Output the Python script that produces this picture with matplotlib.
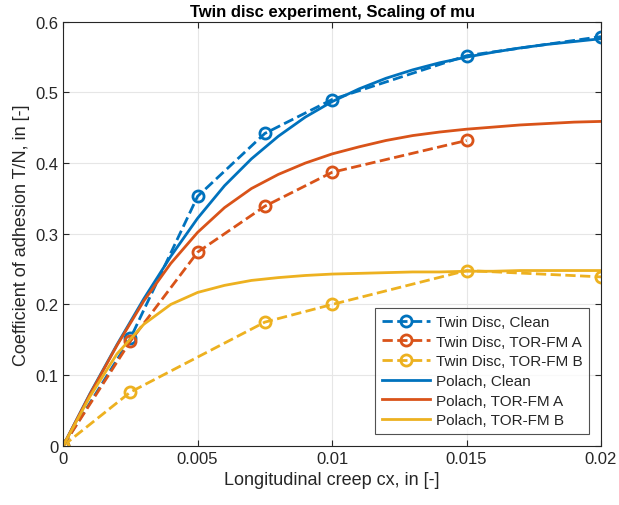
import numpy as np
import matplotlib.pyplot as plt

plt.rcParams['font.family'] = ['Liberation Sans', 'DejaVu Sans']

# measured twin disc points
td_x_clean = [0, 0.0025, 0.005, 0.0075, 0.01, 0.015, 0.02]
td_y_clean = [0, 0.152, 0.353, 0.442, 0.490, 0.552, 0.579]
td_x_a = [0, 0.0025, 0.005, 0.0075, 0.01, 0.015]
td_y_a = [0, 0.148, 0.274, 0.339, 0.387, 0.432]
td_x_b = [0, 0.0025, 0.0075, 0.01, 0.015, 0.02]
td_y_b = [0, 0.076, 0.175, 0.200, 0.248, 0.239]

# Polach model curves
pol_x = [0, 0.001, 0.002, 0.003, 0.004, 0.005, 0.006, 0.007, 0.008, 0.009, 0.010,
         0.011, 0.012, 0.013, 0.014, 0.015, 0.016, 0.017, 0.018, 0.019, 0.020]
pol_clean = [0, 0.074, 0.143, 0.208, 0.268, 0.322, 0.368, 0.406, 0.438, 0.465, 0.487,
             0.505, 0.520, 0.532, 0.542, 0.550, 0.557, 0.563, 0.568, 0.572, 0.576]
pol_a = [0, 0.073, 0.142, 0.205, 0.258, 0.302, 0.337, 0.364, 0.384, 0.400, 0.413,
         0.423, 0.432, 0.439, 0.444, 0.448, 0.451, 0.454, 0.456, 0.458, 0.459]
pol_b = [0, 0.070, 0.130, 0.172, 0.200, 0.217, 0.227, 0.234, 0.238, 0.241, 0.243,
         0.244, 0.245, 0.246, 0.246, 0.247, 0.247, 0.248, 0.248, 0.248, 0.248]

c1, c2, c3 = '#0072BD', '#D95319', '#EDB120'

fig = plt.figure(figsize=(6.19, 5.06), dpi=100)
ax = fig.add_axes([0.102, 0.117, 0.869, 0.838])

mk = dict(marker='o', markersize=8, markerfacecolor='none', markeredgewidth=2, linewidth=2)
ax.plot(td_x_clean, td_y_clean, '--', color=c1, label='Twin Disc, Clean', **mk)
ax.plot(td_x_a, td_y_a, '--', color=c2, label='Twin Disc, TOR-FM A', **mk)
ax.plot(td_x_b, td_y_b, '--', color=c3, label='Twin Disc, TOR-FM B', **mk)
ax.plot(pol_x, pol_clean, '-', color=c1, lw=2, label='Polach, Clean')
ax.plot(pol_x, pol_a, '-', color=c2, lw=2, label='Polach, TOR-FM A')
ax.plot(pol_x, pol_b, '-', color=c3, lw=2, label='Polach, TOR-FM B')

ax.set_xlim(0, 0.02)
ax.set_ylim(0, 0.6)
ax.set_xticks([0, 0.005, 0.01, 0.015, 0.02])
ax.set_xticklabels(['0', '0.005', '0.01', '0.015', '0.02'])
ax.set_yticks([0, 0.1, 0.2, 0.3, 0.4, 0.5, 0.6])
ax.set_yticklabels(['0', '0.1', '0.2', '0.3', '0.4', '0.5', '0.6'])
ax.grid(True, color='#e6e6e6', linewidth=0.8)
ax.set_axisbelow(True)
ax.tick_params(direction='in', top=True, right=True, labelsize=12, colors='#262626', length=4)
for s in ax.spines.values():
    s.set_color('#262626')
    s.set_linewidth(0.8)

ax.set_xlabel('Longitudinal creep cx, in [-]', fontsize=13, color='#262626')
ax.set_ylabel('Coefficient of adhesion T/N, in [-]', fontsize=13, color='#262626')
ax.set_title('Twin disc experiment, Scaling of mu', fontsize=12, fontweight='bold', pad=4)

leg = ax.legend(loc='lower right', fontsize=11, fancybox=False, edgecolor='#262626',
                handlelength=3.2, borderaxespad=0.8, labelspacing=0.37,
                handletextpad=0.35, borderpad=0.42)
leg.get_frame().set_linewidth(0.8)
for t in leg.get_texts():
    t.set_color('#262626')

fig.savefig('out.png', dpi=100)
